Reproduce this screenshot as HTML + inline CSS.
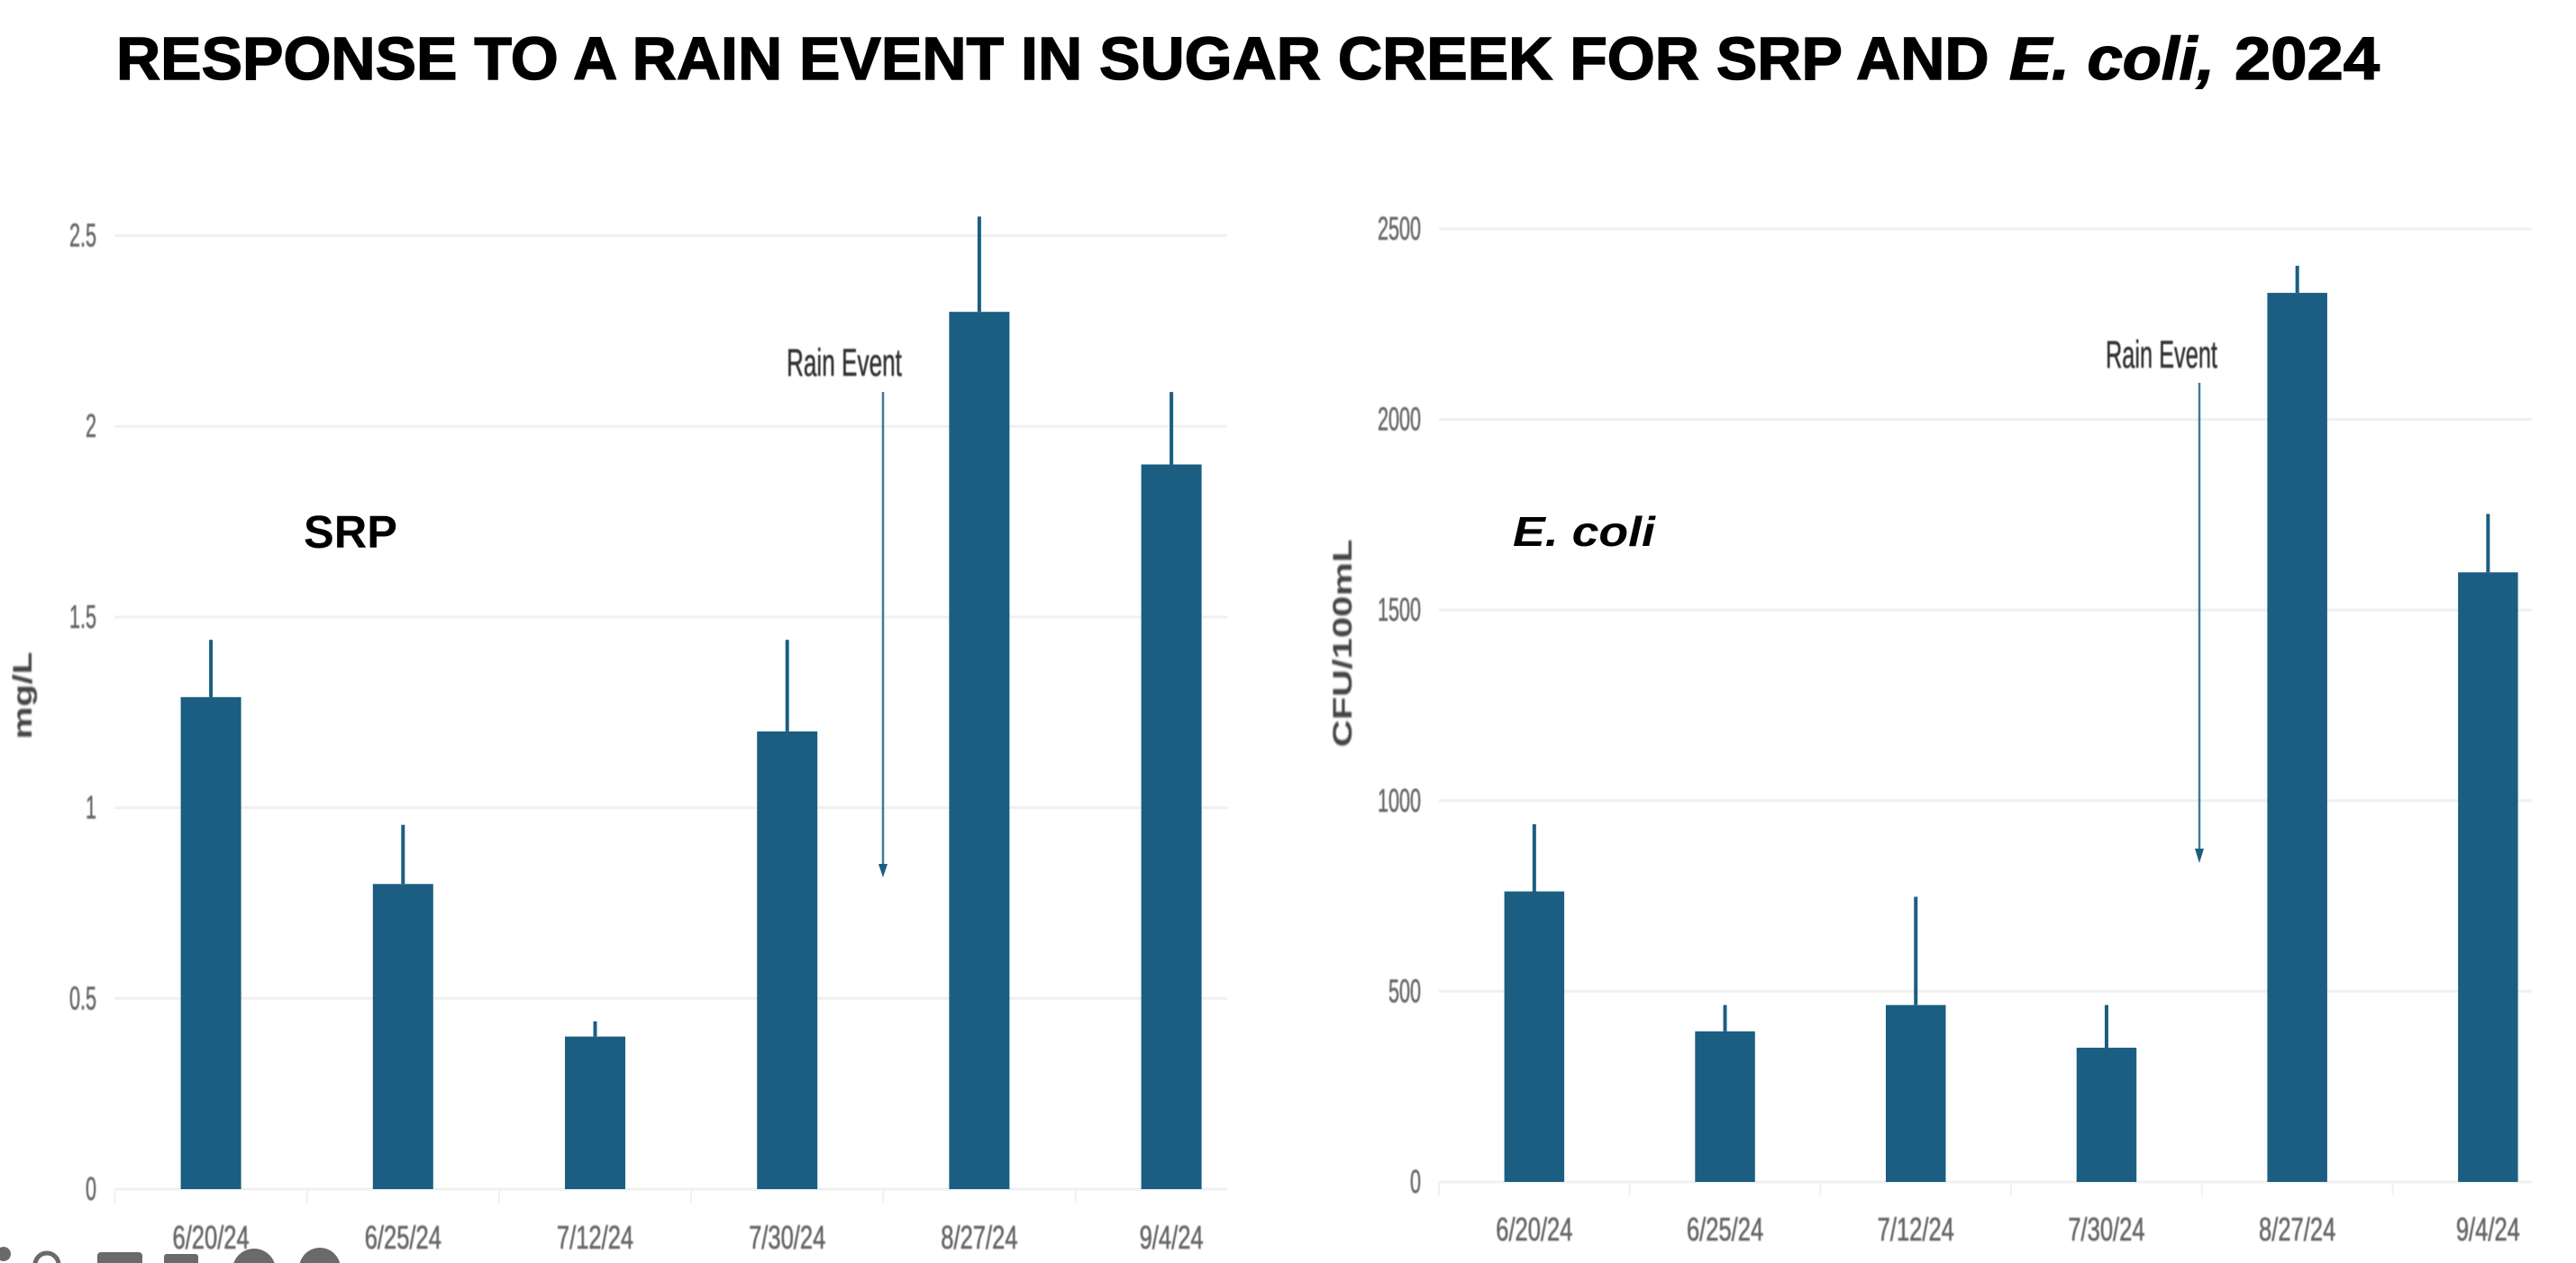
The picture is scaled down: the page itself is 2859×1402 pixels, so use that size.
<!DOCTYPE html>
<html lang="en">
<head>
<meta charset="utf-8">
<title>Response to a rain event in Sugar Creek for SRP and E. coli, 2024</title>
<style>
  html, body { margin: 0; padding: 0; background: #fff; }
  body { width: 2859px; height: 1402px; overflow: hidden; }
  svg { display: block; }
  text { font-family: "Liberation Sans", Arial, sans-serif; }
  .title-text { font-size: 67px; font-weight: 700; fill: #000; stroke: #000; stroke-width: 1.4px; }
  .panel-label { font-weight: 700; fill: #000; }
  .axis-title { font-size: 30px; font-weight: 700; fill: #444; }
  .tick-label { font-size: 36px; fill: #666; stroke: #666; stroke-width: 0.6px; }
  .annotation { font-size: 43px; fill: #333; stroke: #333; stroke-width: 0.6px; }
</style>
</head>
<body>
<svg id="figure" xmlns="http://www.w3.org/2000/svg" width="2859" height="1402" viewBox="0 0 2859 1402">
  <defs>
    <filter id="soft" x="-10%" y="-20%" width="120%" height="140%"><feGaussianBlur stdDeviation="0.8"/></filter>
  </defs>
  <rect width="2859" height="1402" fill="#ffffff"/>

  <g>
    <text id="title-a" class="title-text">RESPONSE TO A RAIN EVENT IN SUGAR CREEK FOR SRP AND</text>
    <text id="title-b" class="title-text" font-style="italic">E. coli,</text>
    <text id="title-c" class="title-text">2024</text>
  </g>

  <g id="srp-chart"></g>
  <g id="ecoli-chart"></g>

  <text id="srp-label" class="panel-label" font-size="51">SRP</text>
  <text id="ecoli-label" class="panel-label" font-size="46" font-style="italic">E. coli</text>

  <text id="srp-y-title" class="axis-title" text-anchor="middle" filter="url(#soft)">mg/L</text>
  <text id="ecoli-y-title" class="axis-title" text-anchor="middle" filter="url(#soft)">CFU/100mL</text>

  <g>
    <text id="srp-rain" class="annotation" filter="url(#soft)">Rain Event</text>
    <line x1="980" y1="435" x2="980" y2="962" stroke="#3f7a99" stroke-width="2.5"/>
    <polygon points="975,959 985,959 980,974" fill="#1b5e82"/>
  </g>
  <g>
    <text id="ecoli-rain" class="annotation" filter="url(#soft)">Rain Event</text>
    <line x1="2441" y1="425" x2="2441" y2="945" stroke="#3f7a99" stroke-width="2.5"/>
    <polygon points="2436,942 2446,942 2441,958" fill="#1b5e82"/>
  </g>

  <g fill="#6a6a6a">
    <circle cx="4" cy="1392" r="8"/>
    <circle cx="52" cy="1404" r="13" fill="none" stroke="#6a6a6a" stroke-width="5"/>
    <rect x="108" y="1390" width="50" height="20" rx="4"/>
    <rect x="182" y="1392" width="38" height="20" rx="3"/>
    <circle cx="282" cy="1410" r="24"/>
    <circle cx="355" cy="1408" r="23"/>
  </g>
</svg>

<script>
const categories = ["6/20/24", "6/25/24", "7/12/24", "7/30/24", "8/27/24", "9/4/24"];

const srpValues = [1.29, 0.80, 0.40, 1.20, 2.30, 1.90];
const srpErrorTops = [1.44, 0.955, 0.44, 1.44, 2.55, 2.09];
const srpTicks = [0, 0.5, 1, 1.5, 2, 2.5];

const ecoliValues = [762, 395, 464, 352, 2332, 1599];
const ecoliErrorTops = [938, 464, 748, 464, 2403, 1752];
const ecoliTicks = [0, 500, 1000, 1500, 2000, 2500];

const SVG_NS = "http://www.w3.org/2000/svg";
const BAR_COLOR = "#1b5e82";
const GRID_COLOR = "#f0f0f0";

function make(tag, attrs, parent) {
  const el = document.createElementNS(SVG_NS, tag);
  Object.keys(attrs).forEach(function (k) { el.setAttribute(k, attrs[k]); });
  parent.appendChild(el);
  return el;
}

function drawChart(root, layout, values, errorTops, ticks) {
  const xCenter = function (i) { return layout.left + layout.band * (i + 0.5); };
  const xEdge = function (i) { return layout.left + layout.band * i; };
  const yScale = function (v) { return layout.zero - v * layout.pxPerUnit; };

  ticks.forEach(function (t) {
    const y = yScale(t);
    const grid = make("line", { x1: layout.left, x2: layout.right, y1: y, y2: y, stroke: GRID_COLOR, "stroke-width": 3 }, root);
    
    

    const label = make("text", {
      class: "tick-label",
      "text-anchor": "end",
      filter: "url(#soft)",
      transform: "translate(" + layout.tickRight + "," + (y + 12) + ") scale(0.6,1)"
    }, root);
    label.textContent = String(t);
    
    
  });

  categories.forEach(function (c, i) {
    const tick = make("line", { x1: xEdge(i), x2: xEdge(i), y1: yScale(0), y2: yScale(0) + 15, stroke: "#f0f0f0", "stroke-width": 2 }, root);
    
    

    const whisker = make("line", { x1: xCenter(i), x2: xCenter(i), y1: yScale(errorTops[i]), y2: yScale(values[i]), stroke: BAR_COLOR, "stroke-width": 4 }, root);
    
    

    const bar = make("rect", {
      x: xCenter(i) - layout.barWidth / 2,
      y: yScale(values[i]),
      width: layout.barWidth,
      height: yScale(0) - yScale(values[i]),
      fill: BAR_COLOR
    }, root);
    
    

    const label = make("text", {
      class: "tick-label",
      "text-anchor": "middle",
      filter: "url(#soft)",
      transform: "translate(" + xCenter(i) + "," + layout.xLabelBaseline + ") scale(0.71,1)"
    }, root);
    label.textContent = c;
    
    
  });
}

drawChart(document.getElementById("srp-chart"),
  { left: 127.5, right: 1362, band: 213.2, barWidth: 67, zero: 1320, pxPerUnit: 423.4, tickRight: 107, xLabelBaseline: 1386 },
  srpValues, srpErrorTops, srpTicks);

drawChart(document.getElementById("ecoli-chart"),
  { left: 1597, right: 2810, band: 211.7, barWidth: 66.5, zero: 1312, pxPerUnit: 0.4232, tickRight: 1577, xLabelBaseline: 1377 },
  ecoliValues, ecoliErrorTops, ecoliTicks);

function fit(id, x, y, width, rotate) {
  const el = document.getElementById(id);
  const sx = width / el.getComputedTextLength();
  el.setAttribute("transform", "translate(" + x + "," + y + ")" + (rotate ? " rotate(" + rotate + ")" : "") + " scale(" + sx + ",1)");
}

fit("title-a", 129, 88, 2079);
fit("title-b", 2230, 88, 228);
fit("title-c", 2480, 88, 161);
fit("srp-label", 337, 608, 104);
fit("ecoli-label", 1679, 606, 158);
fit("srp-y-title", 35, 772, 97, -90);
fit("ecoli-y-title", 1500, 714, 231, -90);
fit("srp-rain", 873, 417, 128);
fit("ecoli-rain", 2337, 408, 124);
</script>
</body>
</html>
